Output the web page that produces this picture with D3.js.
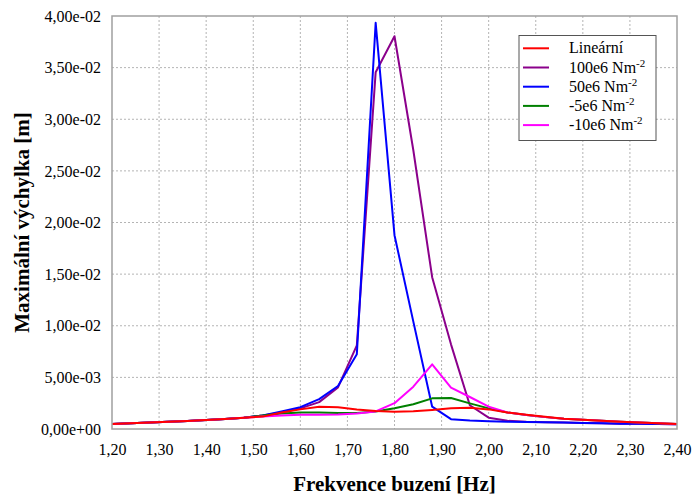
<!DOCTYPE html>
<html><head><meta charset="utf-8">
<script src="https://cdn.jsdelivr.net/npm/d3@7"></script>
<style>body{margin:0;background:#fff}svg{display:block}</style>
</head><body><svg id="c" width="693" height="497"></svg>
<script>
const freq = [1.20,1.24,1.28,1.32,1.36,1.40,1.44,1.48,1.52,1.56,1.60,1.64,1.68,1.72,1.76,1.80,1.84,1.88,1.92,1.96,2.00,2.04,2.08,2.12,2.16,2.20,2.24,2.28,2.32,2.36,2.40];
const linear = [0.00048,0.00055,0.00062,0.0007,0.00078,0.00086,0.00096,0.0011,0.0012,0.0016,0.0019,0.00215,0.0021,0.0019,0.00175,0.00168,0.00172,0.00185,0.002,0.00205,0.0019,0.0016,0.00138,0.00118,0.001,0.0009,0.0008,0.0007,0.00062,0.00055,0.00048];
const s100 = [0.00048,0.00055,0.00062,0.0007,0.00078,0.00086,0.00096,0.0011,0.0013,0.0016,0.002,0.0026,0.00403,0.0081,0.03456,0.03804,0.027,0.0147,0.0082,0.0023,0.0011,0.0008,0.0007,0.00066,0.00062,0.00058,0.00055,0.00052,0.0005,0.00048,0.00046];
const s50 = [0.00048,0.00055,0.00062,0.0007,0.00078,0.00086,0.00096,0.0011,0.0013,0.0017,0.00212,0.0029,0.00416,0.00725,0.03934,0.01877,0.0104,0.00216,0.00095,0.00082,0.00075,0.0007,0.00068,0.00065,0.00062,0.00058,0.00055,0.00052,0.0005,0.00048,0.00046];
const sm5 = [0.00048,0.00055,0.00062,0.0007,0.00078,0.00086,0.00096,0.0011,0.0013,0.0015,0.0016,0.0016,0.00155,0.00155,0.0017,0.002,0.0024,0.00297,0.003,0.00248,0.002,0.0016,0.00135,0.00115,0.001,0.0009,0.0008,0.0007,0.00062,0.00055,0.00048];
const sm10 = [0.00048,0.00055,0.00062,0.0007,0.00078,0.00086,0.00096,0.0011,0.0012,0.0013,0.00138,0.00138,0.0014,0.0015,0.0017,0.0025,0.0041,0.00626,0.004,0.0031,0.00216,0.0016,0.00135,0.00115,0.001,0.0009,0.0008,0.0007,0.00062,0.00055,0.00048];
const seriesNames = ["Lineární","100e6 Nm","50e6 Nm","-5e6 Nm","-10e6 Nm"];
const seriesSup = ["","-2","-2","-2","-2"];
const seriesColors = ["#ff0000","#8b008b","#0000ff","#008000","#ff00ff"];
const xTicks = [1.2,1.3,1.4,1.5,1.6,1.7,1.8,1.9,2.0,2.1,2.2,2.3,2.4];
const yTicks = [0,0.005,0.01,0.015,0.02,0.025,0.03,0.035,0.04];
const yTickLabels = ["0,00e+00","5,00e-03","1,00e-02","1,50e-02","2,00e-02","2,50e-02","3,00e-02","3,50e-02","4,00e-02"];
const xTitle = "Frekvence buzení [Hz]";
const yTitle = "Maximální výchylka [m]";

const allSeries = [linear, s100, s50, sm5, sm10];
const svg = d3.select("#c");
const L=112, R=677, T=16, B=429;
const x = d3.scaleLinear().domain([1.2,2.4]).range([L,R]);
const y = d3.scaleLinear().domain([0,0.04]).range([B,T]);
const font = "'Liberation Serif','Times New Roman',serif";

// grid
svg.append("g").selectAll("line").data(xTicks.slice(1,-1)).join("line")
  .attr("x1",d=>x(d)).attr("x2",d=>x(d)).attr("y1",T).attr("y2",B)
  .attr("stroke","#b4b4b4").attr("stroke-dasharray","2,2").attr("stroke-width",1);
svg.append("g").selectAll("line").data(yTicks.slice(1,-1)).join("line")
  .attr("y1",d=>y(d)).attr("y2",d=>y(d)).attr("x1",L).attr("x2",R)
  .attr("stroke","#b4b4b4").attr("stroke-dasharray","2,2").attr("stroke-width",1);

// axes via d3
const xa = svg.append("g").attr("transform",`translate(0,${B})`)
  .call(d3.axisBottom(x).tickValues(xTicks).tickSize(0).tickPadding(15).tickFormat(d=>d3.format(".2f")(d).replace(".",",")));
xa.select(".domain").remove();
xa.selectAll("text").attr("font-family",font).attr("font-size",16).attr("fill","#000");
const ya = svg.append("g").attr("transform",`translate(${L},0)`)
  .call(d3.axisLeft(y).tickValues(yTicks).tickSize(0).tickPadding(11).tickFormat((d,i)=>yTickLabels[i]));
ya.select(".domain").remove();
ya.selectAll("text").attr("font-family",font).attr("font-size",16).attr("fill","#000");

// lines
const line = d3.line().x((d,i)=>x(freq[i])).y(d=>y(d));
const order = [1,2,3,4,0];
order.forEach(k=>{
  svg.append("path").datum(allSeries[k]).attr("d",line)
    .attr("fill","none").attr("stroke",seriesColors[k]).attr("stroke-width",2).attr("stroke-linejoin","round");
});

// frame
svg.append("rect").attr("x",L).attr("y",T).attr("width",R-L).attr("height",B-T)
  .attr("fill","none").attr("stroke","#a0a0a0").attr("stroke-width",1.5);

// titles
svg.append("text").attr("x",(L+R)/2).attr("y",491).attr("text-anchor","middle")
  .attr("font-family",font).attr("font-weight","bold").attr("font-size",21).text(xTitle);
svg.append("text").attr("transform",`translate(29,${(T+B)/2}) rotate(-90)`).attr("text-anchor","middle")
  .attr("font-family",font).attr("font-weight","bold").attr("font-size",21).text(yTitle);

// legend
const lg = svg.append("g");
lg.append("rect").attr("x",519).attr("y",35.5).attr("width",137).attr("height",105)
  .attr("fill","#fff").attr("stroke","#555").attr("stroke-width",1);
seriesNames.forEach((n,i)=>{
  const cy = 48.3 + i*19.2;
  lg.append("line").attr("x1",523).attr("x2",549).attr("y1",cy).attr("y2",cy)
    .attr("stroke",seriesColors[i]).attr("stroke-width",2);
  const t = lg.append("text").attr("x",569).attr("y",cy+5).attr("font-family",font).attr("font-size",16).text(n);
  if (seriesSup[i]) t.append("tspan").attr("dy",-6).attr("font-size",11).text(seriesSup[i]);
});
</script></body></html>
